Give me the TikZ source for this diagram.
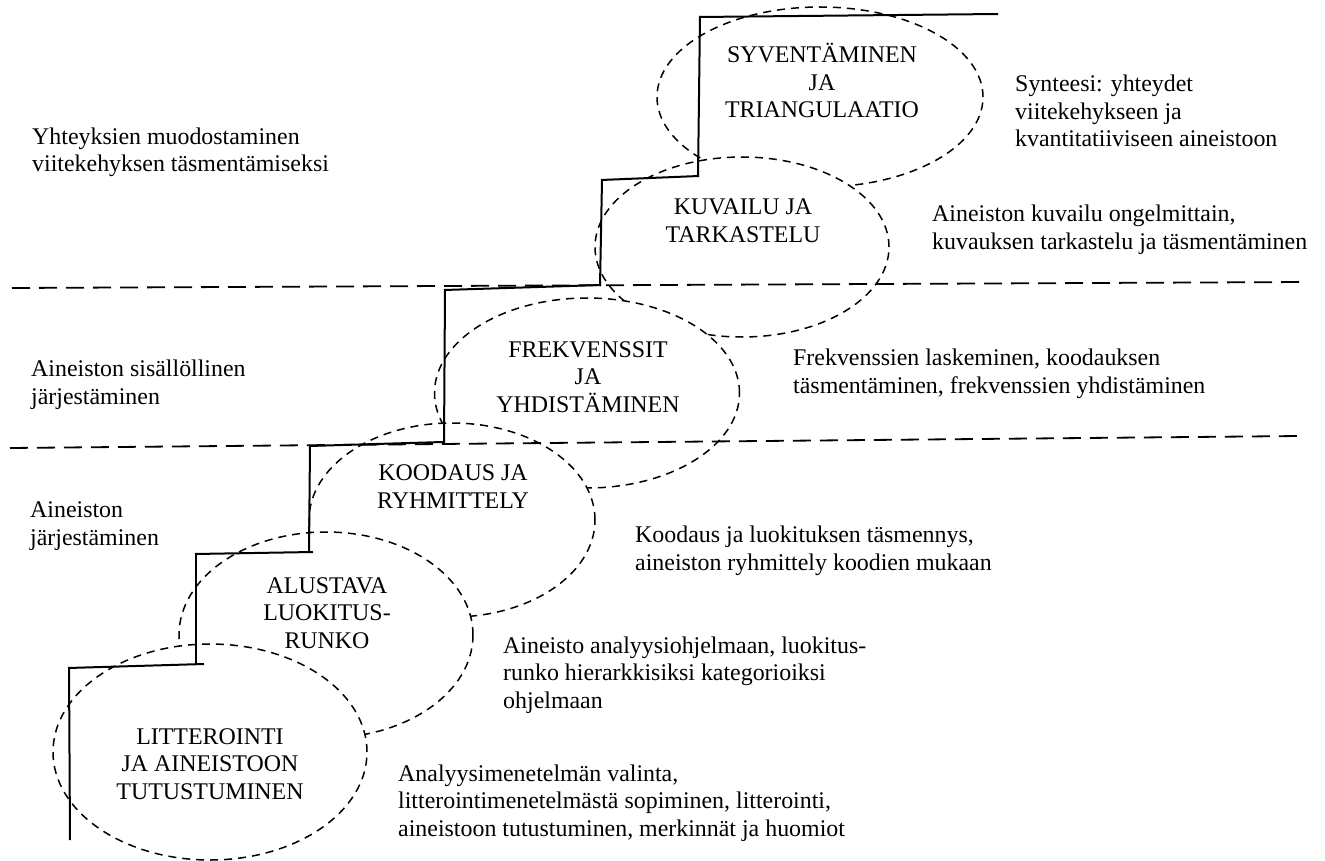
\documentclass[tikz,border=0pt]{standalone}
\usepackage{fontspec}
\setmainfont{Liberation Serif}
\usetikzlibrary{shapes.geometric}
\begin{document}
\begin{tikzpicture}[x=1pt,y=-1pt,
  phase/.style={ellipse, draw, fill=white, inner sep=0pt,
    line width=1.5pt, dash pattern=on 8pt off 6pt},
  % multi-line texts are placed by the baseline of their last line
  note/.style={anchor=base west, align=left, inner sep=0pt,
    font=\fontsize{23.9}{27.5}\selectfont},
  phasetext/.style={anchor=base, align=center, inner sep=0pt,
    font=\fontsize{23.9}{27.5}\selectfont},
  divider/.style={line width=1.8pt, dash pattern=on 18pt off 9pt},
  stairline/.style={line width=2pt, line cap=butt}
]
\useasboundingbox (0,0) rectangle (1325,861);

% phases, upper ones first so that each lower one covers them
\node[phase, minimum width=326pt, minimum height=180pt] (syv) at (820,97) {};
\node[phase, minimum width=294pt, minimum height=180pt] (kuv) at (742,247) {};
\node[phase, minimum width=305pt, minimum height=190pt] (fre) at (587,393) {};
\node[phase, minimum width=286pt, minimum height=194pt] (koo) at (452,520) {};
\node[phase, minimum width=294pt, minimum height=206pt] (alu) at (326,635) {};
\node[phase, minimum width=314pt, minimum height=216pt] (lit) at (210,752) {};

% phase names
\node[phasetext] (syvt) at (822,118) {SYVENTÄMINEN\\JA\\TRIANGULAATIO};
\node[phasetext] (kuvt) at (743,242) {KUVAILU JA\\TARKASTELU};
\node[phasetext] (fret) at (588,412) {FREKVENSSIT\\JA\\YHDISTÄMINEN};
\node[phasetext] (koot) at (453,508) {KOODAUS JA\\RYHMITTELY};
\node[phasetext] (alut) at (327,648) {ALUSTAVA\\LUOKITUS-\\RUNKO};
\node[phasetext] (litt) at (210,799) {LITTEROINTI\\JA AINEISTOON\\TUTUSTUMINEN};

% level dividers
\coordinate (d1a) at (12,288);
\coordinate (d1b) at (1305,282);
\coordinate (d2a) at (10,448);
\coordinate (d2b) at (1300,436);
\draw[divider] (d1a) -- (d1b);
\draw[divider] (d2a) -- (d2b);

% staircase
\draw[stairline] (70,840) -- (69,667);
\draw[stairline] (68,668) -- (204,664);
\draw[stairline] (196,665) -- (196,553);
\draw[stairline] (195,554) -- (313,552);
\draw[stairline] (309,553) -- (310,445);
\draw[stairline] (309,446) -- (443,442);
\draw[stairline] (444,443) -- (445,290);
\draw[stairline] (444,290) -- (601,285);
\draw[stairline] (600,286) -- (602,180);
\draw[stairline] (601,180) -- (699,176);
\draw[stairline] (698,177) -- (700,16);
\draw[stairline] (699,17) -- (998,14);

% level descriptions
\node[note] (lv3) at (32,172) {Yhteyksien muodostaminen\\viitekehyksen täsmentämiseksi};
\node[note] (lv2) at (31,404) {Aineiston sisällöllinen\\järjestäminen};
\node[note] (lv1) at (30,545) {Aineiston\\järjestäminen};

% phase descriptions
\node[note] (d6) at (1015,147) {Synteesi: yhteydet\\viitekehykseen ja\\kvantitatiiviseen aineistoon};
\node[note] (d5) at (932,249) {Aineiston kuvailu ongelmittain,\\kuvauksen tarkastelu ja täsmentäminen};
\node[note] (d4) at (793,393) {Frekvenssien laskeminen, koodauksen\\täsmentäminen, frekvenssien yhdistäminen};
\node[note] (d3) at (635,570) {Koodaus ja luokituksen täsmennys,\\aineiston ryhmittely koodien mukaan};
\node[note] (d2) at (503,708) {Aineisto analyysiohjelmaan, luokitus-\\runko hierarkkisiksi kategorioiksi\\ohjelmaan};
\node[note] (d1) at (398,836) {Analyysimenetelmän valinta,\\litterointimenetelmästä sopiminen, litterointi,\\aineistoon tutustuminen, merkinnät ja huomiot};
\end{tikzpicture}
\end{document}
